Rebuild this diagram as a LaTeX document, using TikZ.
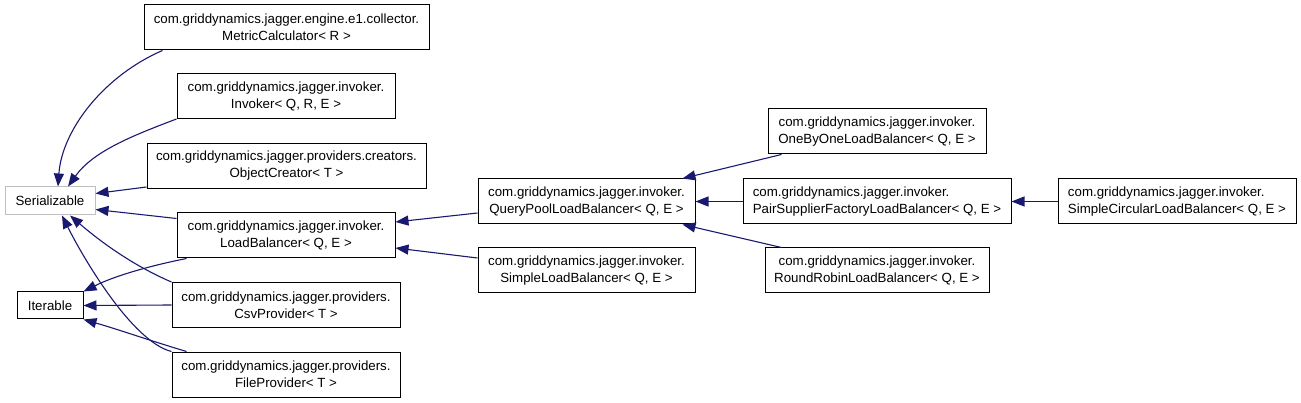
\documentclass[tikz,border=0pt]{standalone}
\usepackage{fontspec}
\setmainfont{Liberation Sans}
\usetikzlibrary{arrows.meta}
\definecolor{navyedge}{HTML}{191970}
\definecolor{extgrey}{HTML}{BFBFBF}

\begin{document}
\begin{tikzpicture}[x=1pt,y=-1pt,
        cls/.style={draw=black, line width=1pt, inner sep=0pt, minimum height=45pt,
          minimum width=#1, align=center, font=\fontsize{13.3}{17}\selectfont},
        cls/.default=218pt,
        extcls/.style={cls=#1, draw=extgrey, minimum height=28pt},
        inherit/.style={draw=navyedge, line width=1.1pt, -{Triangle[length=13pt,width=10pt]}}]

        \useasboundingbox (0,0) rectangle (1301,403);

        %%% interfaces %%%
        \node[extcls=90pt] (ser) at (50,201) {Serializable};
        \node[cls=66pt, minimum height=27pt] (it) at (50,305.5) {Iterable};

        %%% first column %%%
        \node[cls=285pt] (mc) at (286.5,27.5) {com.griddynamics.jagger.engine.e1.collector.\\MetricCalculator< R >};
        \node[cls] (inv) at (286,96) {com.griddynamics.jagger.invoker.\\Invoker< Q, R, E >};
        \node[cls=279pt] (oc) at (286.5,166) {com.griddynamics.jagger.providers.creators.\\ObjectCreator< T >};
        \node[cls] (lb) at (286,235.5) {com.griddynamics.jagger.invoker.\\LoadBalancer< Q, E >};
        \node[cls=228pt] (csv) at (286,305) {com.griddynamics.jagger.providers.\\CsvProvider< T >};
        \node[cls=228pt] (file) at (286,374.5) {com.griddynamics.jagger.providers.\\FileProvider< T >};

        %%% second column %%%
        \node[cls=217pt] (qp) at (586.5,201.5) {com.griddynamics.jagger.invoker.\\QueryPoolLoadBalancer< Q, E >};
        \node[cls=217pt] (slb) at (586.5,270.5) {com.griddynamics.jagger.invoker.\\SimpleLoadBalancer< Q, E >};

        %%% third column %%%
        \node[cls] (obo) at (877,131.5) {com.griddynamics.jagger.invoker.\\OneByOneLoadBalancer< Q, E >};
        \node[cls=268pt, align=left] (pair) at (877,201.5) {com.griddynamics.jagger.invoker.\\PairSupplierFactoryLoadBalancer< Q, E >};
        \node[cls=224pt] (rr) at (877,270.5) {com.griddynamics.jagger.invoker.\\RoundRobinLoadBalancer< Q, E >};
        \node[cls=238pt, align=left] (sc) at (1177,201.5) {com.griddynamics.jagger.invoker.\\SimpleCircularLoadBalancer< Q, E >};

        %%% Serializable %%%
        \draw[inherit] ([xshift=19pt]mc.south west) .. controls +(-58,25) and +(4,-57) .. ([xshift=8pt]ser.north);
        \draw[inherit] (inv.south west) .. controls +(-45,17) and +(25,-35) .. ([xshift=18pt]ser.north);
        \draw[inherit] ([yshift=2pt]oc.south west) -- ([yshift=-7pt]ser.north east);
        \draw[inherit] ([yshift=-6pt]lb.north west) -- ([yshift=6pt]ser.south east);
        \draw[inherit] (csv.north west) .. controls +(-35,-15) and +(35,30) .. ([xshift=20pt]ser.south);
        \draw[inherit] (file.north west) .. controls +(-40,-10) and +(20,40) .. ([xshift=12pt]ser.south);

        %%% Iterable %%%
        \draw[inherit] ([xshift=10pt]lb.south west) .. controls +(-40,8) and +(30,-15) .. (it.north east);
        \draw[inherit] (csv.west) -- (it.east);
        \draw[inherit] ([xshift=15pt]file.north west) .. controls +(-40,-12) and +(35,10) .. (it.south east);

        %%% LoadBalancer %%%
        \draw[inherit] ([yshift=-11.5pt]qp.west) -- ([yshift=13.5pt]lb.east);
        \draw[inherit] ([yshift=12.5pt]slb.west) -- ([yshift=-12.5pt]lb.east);

        %%% QueryPoolLoadBalancer %%%
        \draw[inherit] ([xshift=14pt]obo.south west) -- ([xshift=-13pt]qp.north east);
        \draw[inherit] (pair.west) -- (qp.east);
        \draw[inherit] ([xshift=17pt]rr.north west) -- ([xshift=-13pt]qp.south east);
        \draw[inherit] (sc.west) -- (pair.east);

\end{tikzpicture}
\end{document}
